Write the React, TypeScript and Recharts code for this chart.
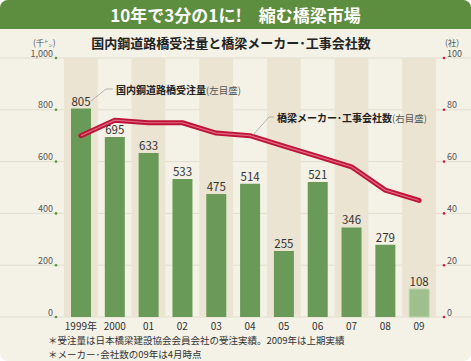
import React from "react";
import {
  ComposedChart,
  Bar,
  Line,
  XAxis,
  YAxis,
  CartesianGrid,
  ReferenceArea,
  LabelList,
  Cell,
} from "recharts";

document.body.style.margin = "0";

const years = ["1999年", "2000", "01", "02", "03", "04", "05", "06", "07", "08", "09"];
const orders = [805, 695, 633, 533, 475, 514, 255, 521, 346, 279, 108];
const companies = [70, 76, 75, 75, 71, 70, 66, 62, 58, 49, 45];
const leftTicks = [0, 200, 400, 600, 800, 1000];
const rightTicks = [0, 20, 40, 60, 80, 100];

const data = years.map((year, i) => ({ year, orders: orders[i], companies: companies[i] }));

const FONT = "'Noto Sans CJK JP', 'Noto Sans', sans-serif";
const BG = "#f4f1e6";
const BAND = "#ebe4d2";
const GREEN = "#6a9a58";
const GREEN_LIGHT = "#9dc08d";
const RED = "#bf1439";

function LeftTick(props: any) {
  const y = props.y;
  const v = props.payload.value;
  return (
    <g>
      <circle cx={56} cy={y} r={1.3} fill="#4f9a3a" />
      <text x={53} y={y - 1.5} textAnchor="end" fontSize={9} fill="#555" fontFamily={FONT}>
        {v.toLocaleString("en-US")}
      </text>
    </g>
  );
}

function RightTick(props: any) {
  const y = props.y;
  return (
    <g>
      <circle cx={444} cy={y} r={1.3} fill="#d0204a" />
      <text x={447} y={y - 1.5} textAnchor="start" fontSize={9} fill="#555" fontFamily={FONT}>
        {props.payload.value}
      </text>
    </g>
  );
}

function YearTick(props: any) {
  return (
    <text x={props.x} y={330} textAnchor="middle" fontSize={10} fill="#333" fontFamily={FONT}>
      {props.payload.value}
    </text>
  );
}

function GridLine(props: any) {
  return <line x1={0} x2={471} y1={props.y1} y2={props.y2} stroke="#e2ddcf" strokeWidth={1} />;
}

export default function App() {
  return (
    <div
      style={{
        position: "relative",
        width: 471,
        height: 361,
        background: BG,
        borderRadius: 8,
        overflow: "hidden",
        fontFamily: FONT,
      }}
    >
      <div
        style={{
          position: "absolute",
          left: 0,
          top: 0,
          width: 471,
          height: 29,
          background: "#5d8d3e",
          color: "#fff",
          fontWeight: 700,
          fontSize: 17,
          lineHeight: "29px",
          textAlign: "center",
        }}
      >
        10年で3分の1に!　縮む橋梁市場
      </div>
      <div
        style={{
          position: "absolute",
          left: 0,
          top: 33,
          width: 462,
          fontWeight: 700,
          fontSize: 13,
          color: "#222",
          textAlign: "center",
        }}
      >
        国内鋼道路橋受注量と橋梁メーカー･工事会社数
      </div>
      <div style={{ position: "absolute", left: 0, top: 0 }}>
        <ComposedChart
          width={471}
          height={361}
          data={data}
          margin={{ top: 58, right: 0, bottom: 24, left: 0 }}
        >
          <CartesianGrid vertical={false} horizontal={GridLine} yAxisId="left" />
          {years.map((y, i) =>
            i % 2 === 0 ? (
              <ReferenceArea
                key={y}
                x1={y}
                x2={y}
                y1={0}
                y2={1000}
                yAxisId="left"
                fill={BAND}
                fillOpacity={1}
                stroke="none"
              />
            ) : null
          )}
          <XAxis dataKey="year" axisLine={false} tickLine={false} tick={<YearTick />} height={20} interval={0} />
          <YAxis
            yAxisId="left"
            domain={[0, 1000]}
            ticks={leftTicks}
            width={64}
            axisLine={false}
            tickLine={false}
            tick={<LeftTick />}
          />
          <YAxis
            yAxisId="right"
            orientation="right"
            domain={[0, 100]}
            ticks={rightTicks}
            width={35}
            axisLine={false}
            tickLine={false}
            tick={<RightTick />}
          />
          <Bar dataKey="orders" yAxisId="left" barSize={20} isAnimationActive={false}>
            {data.map((d, i) =>
              i === data.length - 1 ? (
                <Cell key={i} fill={GREEN_LIGHT} stroke="#bcd6ae" strokeWidth={1} />
              ) : (
                <Cell key={i} fill={GREEN} />
              )
            )}
            <LabelList dataKey="orders" position="top" offset={3} fontSize={11.5} fill="#333" fontFamily={FONT} />
          </Bar>
          <Line
            dataKey="companies"
            yAxisId="right"
            stroke={RED}
            strokeWidth={5}
            strokeLinecap="round"
            strokeLinejoin="round"
            dot={false}
            activeDot={false}
            type="linear"
            isAnimationActive={false}
          />
          <Line
            dataKey="companies"
            yAxisId="right"
            stroke="#e06a82"
            strokeWidth={1.2}
            dot={false}
            activeDot={false}
            type="linear"
            isAnimationActive={false}
          />
        </ComposedChart>
      </div>
      <svg
        width={471}
        height={361}
        style={{ position: "absolute", left: 0, top: 0, pointerEvents: "none" }}
        fontFamily={FONT}
      >
        <text x={33} y={46} fontSize={8.5} fill="#555">(千㌧)</text>
        <text x={445} y={46} fontSize={8.5} fill="#555">(社)</text>
        <polyline points="91,101 106,89 113,89" fill="none" stroke="#999" strokeWidth={0.7} />
        <text x={116} y={94} fontSize={10} fontWeight={700} fill="#222">
          国内鋼道路橋受注量
          <tspan fontSize={9.5} fontWeight={400} fill="#555">(左目盛)</tspan>
        </text>
        <polyline points="253,135 269,117 274,117" fill="none" stroke="#999" strokeWidth={0.7} />
        <text x={277} y={122} fontSize={10} fontWeight={700} fill="#222">
          橋梁メーカー･工事会社数
          <tspan fontSize={9.5} fontWeight={400} fill="#555">(右目盛)</tspan>
        </text>
        <text x={48} y={343.5} fontSize={9.5} fill="#333">＊受注量は日本橋梁建設協会会員会社の受注実績。2009年は上期実績</text>
        <text x={48} y={357.5} fontSize={9.5} fill="#333">＊メーカー･会社数の09年は4月時点</text>
      </svg>
    </div>
  );
}
